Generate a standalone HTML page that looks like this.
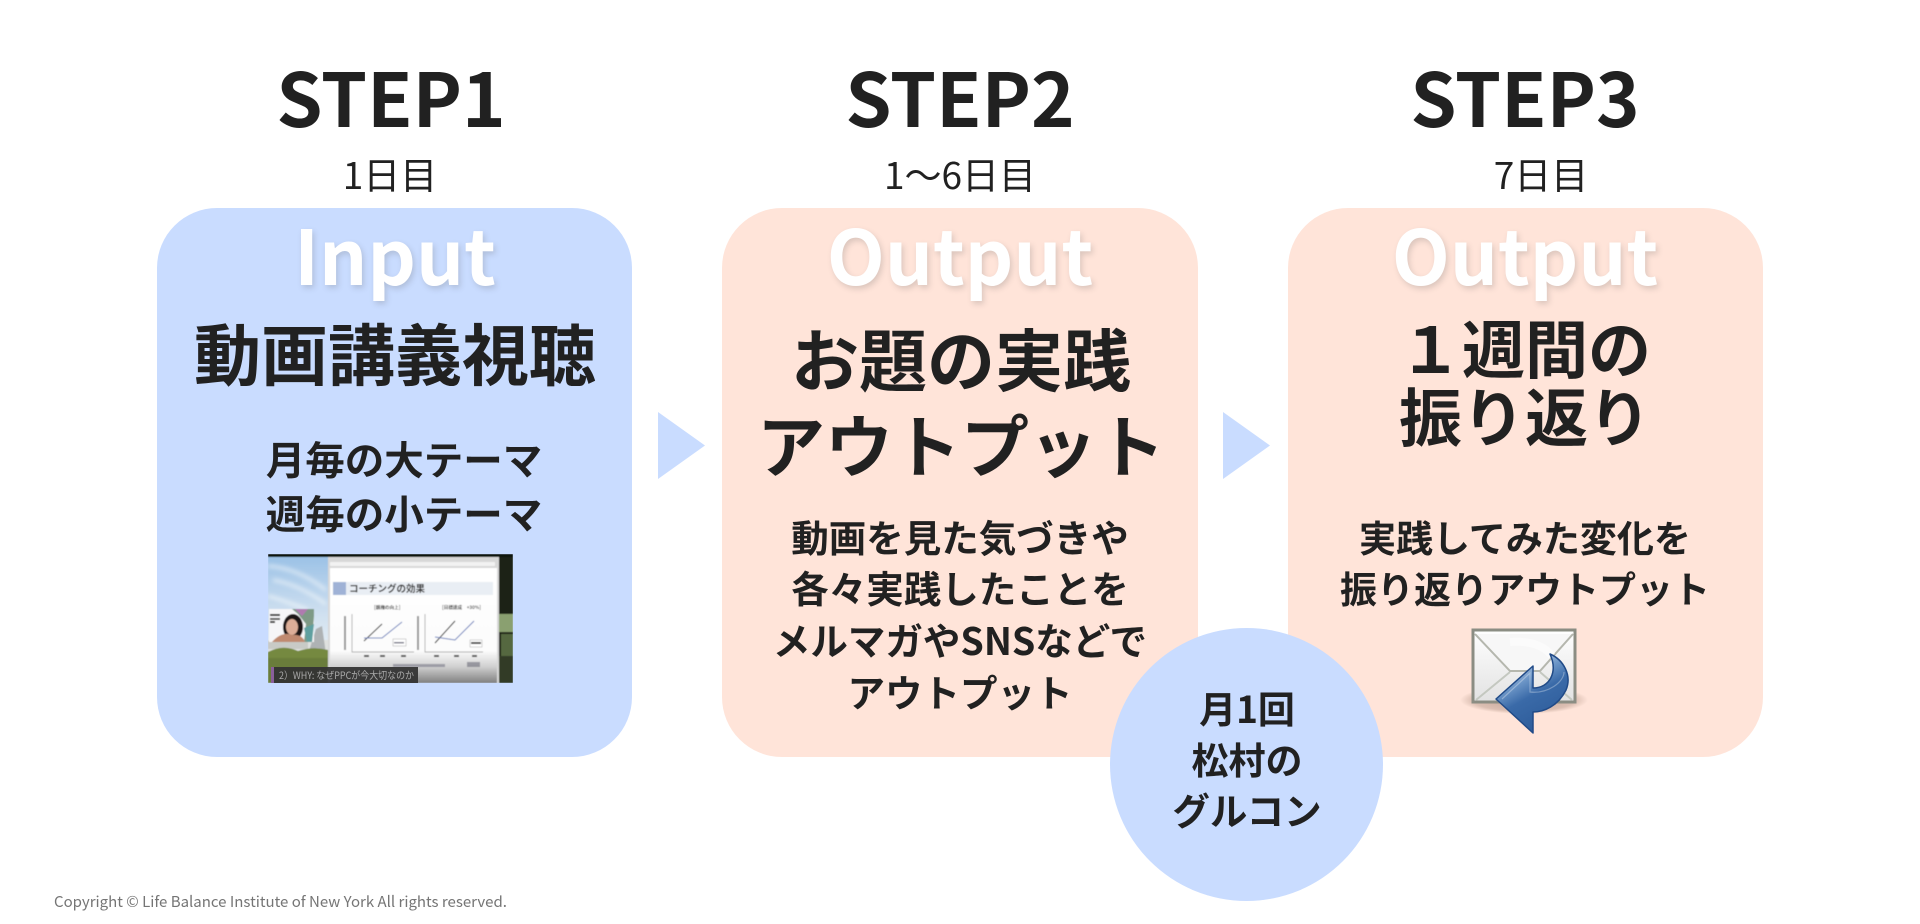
<!DOCTYPE html>
<html lang="ja"><head><meta charset="utf-8"><title>STEP</title>
<style>
html,body{margin:0;padding:0;background:#fff}
#p{position:relative;width:1920px;height:924px;overflow:hidden;background:#fff;font-family:"Noto Sans CJK JP","Liberation Sans",sans-serif;color:#212121}
.b{position:absolute;top:208px;height:549px;width:475px;border-radius:60px}
.t{position:absolute;width:800px;height:100px;line-height:100px;text-align:center;font-weight:700;white-space:nowrap}
.s{font-size:74px}.d{font-size:37px;font-weight:400}
.o{font-size:75.5px;color:#fff;text-shadow:2px 3px 6px rgba(90,90,90,.22)}
.h{font-size:67px}.h2{font-size:68px}.h3{font-size:63px}.m{font-size:37.5px}.m2{font-size:37px}.m3{font-size:39.5px}
svg{position:absolute}
</style></head><body><div id="p">
<div class="b" style="left:157px;background:#c9dcff"></div>
<div class="b" style="left:722px;width:476px;background:#ffe4d9"></div>
<div class="b" style="left:1288px;background:#ffe4d9"></div>
<svg style="left:0;top:0" width="1920" height="924"><polygon points="658,412 705,445.5 658,479" fill="#c9dcff"/><polygon points="1223,412 1270,445.5 1223,479" fill="#c9dcff"/></svg>

<div class="t s" style="left:-9px;top:46px">STEP1</div>
<div class="t s" style="left:560px;top:46px">STEP2</div>
<div class="t s" style="left:1125px;top:46px">STEP3</div>
<div class="t d" style="left:-10px;top:123px">1日目</div>
<div class="t d" style="left:560px;top:123px">1〜6日目</div>
<div class="t d" style="left:1141px;top:123px">7日目</div>
<div class="t o" style="left:-5px;top:202px">Input</div>
<div class="t o" style="left:560px;top:202px">Output</div>
<div class="t o" style="left:1125px;top:202px">Output</div>

<div class="t h" style="left:-5px;top:302px">動画講義視聴</div>
<div class="t m3" style="left:4px;top:409px">月毎の大テーマ</div>
<div class="t m3" style="left:4px;top:463px">週毎の小テーマ</div>

<div class="t h2" style="left:561px;top:307px">お題の実践</div>
<div class="t h2" style="left:561px;top:393px">アウトプット</div>
<div class="t m" style="left:560px;top:486px">動画を見た気づきや</div>
<div class="t m" style="left:560px;top:537px">各々実践したことを</div>
<div class="t m" style="left:560px;top:589px">メルマガやSNSなどで</div>
<div class="t m" style="left:560px;top:641px">アウトプット</div>

<div class="t h3" style="left:1125px;top:297px">１週間の</div>
<div class="t h3" style="left:1125px;top:365px">振り返り</div>
<div class="t m2" style="left:1125px;top:486px">実践してみた変化を</div>
<div class="t m2" style="left:1125px;top:537px">振り返りアウトプット</div>

<svg style="left:268px;top:554px" width="245" height="129" viewBox="0 0 245 129">
<defs>
<linearGradient id="sky" x1="0" y1="0" x2="0" y2="1"><stop offset="0" stop-color="#9cc2e6"/><stop offset=".45" stop-color="#cfe0f0"/><stop offset=".75" stop-color="#e6edf3"/><stop offset="1" stop-color="#eef1f4"/></linearGradient>
<linearGradient id="fade" x1="0" y1="0" x2="0" y2="1"><stop offset="0" stop-color="#fff"/><stop offset=".72" stop-color="#fcfcfc"/><stop offset=".86" stop-color="#cfcfcf"/><stop offset="1" stop-color="#808080"/></linearGradient>
<filter id="bl" x="-5%" y="-5%" width="110%" height="110%"><feGaussianBlur stdDeviation=".5"/></filter>
<filter id="bl2"><feGaussianBlur stdDeviation="2"/></filter>
</defs>
<g filter="url(#bl)">
<rect width="245" height="129" fill="#101410"/>
<rect y="3" width="60" height="126" fill="url(#sky)"/>
<g filter="url(#bl2)" stroke="#fff" stroke-width="3" opacity=".6" fill="none"><path d="M0 12 Q30 14 58 36"/><path d="M5 26 Q30 30 58 50"/><path d="M0 42 Q15 46 40 56"/></g>
<rect y="86" width="60" height="43" fill="#dfe1df"/>
<polygon points="41,97 48,75 54,72 58,100" fill="#aeb2b4"/>
<rect x="0" y="87" width="40" height="8" fill="#c8cac6"/>
<path d="M0 98 Q15 90 30 97 Q45 92 60 96 V129 H0Z" fill="#75893f"/>
<rect y="104" width="60" height="25" fill="#6a7d3a"/>
<rect x="231" y="3" width="14" height="126" fill="#1d2418"/>
<rect x="231" y="60" width="14" height="18" fill="#8aa070"/>
<rect x="233" y="80" width="12" height="22" fill="#55683f"/>
<rect x="231" y="102" width="14" height="27" fill="#303b26"/>
<rect x="60" y="3" width="171" height="126" fill="#d8d8d8"/>
<rect x="62" y="14" width="167" height="115" fill="url(#fade)"/>
<rect x="62" y="8" width="165" height="4" fill="#f2f2f2"/>
<rect x="65" y="28" width="160" height="13" fill="#e9eef4"/>
<rect x="65" y="28" width="13" height="13" fill="#9fb2d6"/>
<text x="81" y="38" font-size="9.5" font-weight="700" fill="#333" font-family="Noto Sans CJK JP, sans-serif">コーチングの効果</text>
<text x="106" y="55" font-size="4.6" font-weight="700" fill="#444" font-family="Noto Sans CJK JP, sans-serif">[親権の向上]</text>
<text x="174" y="55" font-size="4.6" font-weight="700" fill="#444" font-family="Noto Sans CJK JP, sans-serif">[目標達成　+30%]</text>
<g fill="none" stroke="#999" stroke-width=".7"><path d="M84 60 V98 H146"/><path d="M157 60 V98 H215"/></g>
<rect x="76" y="62" width="2" height="34" fill="#999"/><rect x="149" y="62" width="2" height="34" fill="#999"/>
<g fill="none" stroke-width="1"><path d="M96 87 L114 70" stroke="#222"/><path d="M96 84 H114 L134 68" stroke="#6d82bd"/><path d="M167 89 L187 67" stroke="#222"/><path d="M167 83 L187 86 L206 67" stroke="#6d82bd"/></g>
<rect x="125" y="85" width="13" height="7" fill="#fff" stroke="#aaa" stroke-width=".5"/><rect x="202" y="86" width="12" height="7" fill="#fff" stroke="#aaa" stroke-width=".5"/>
<rect x="126" y="88" width="10" height="1.5" fill="#778"/><rect x="203" y="88" width="10" height="2" fill="#444"/>
<rect x="125" y="110" width="52" height="3" fill="#667" opacity=".5"/><rect x="199" y="108" width="13" height="5" fill="#556" opacity=".5"/>
<rect x="96" y="101" width="5" height="2" fill="#555"/><rect x="112" y="101" width="5" height="2" fill="#555"/><rect x="133" y="101" width="5" height="2" fill="#555"/><rect x="166" y="101" width="5" height="2" fill="#555"/><rect x="186" y="101" width="5" height="2" fill="#555"/><rect x="204" y="101" width="5" height="2" fill="#555"/>
<rect x="1" y="55" width="45" height="33" fill="#f6f6f8"/>
<polygon points="24,55 46,55 46,62 44,88 36,88 38,70 30,60" fill="#7e9a86"/>
<polygon points="27,55 40,55 34,62" fill="#b07ab0"/><polygon points="36,74 46,70 44,88 39,88" fill="#5fa0a0"/>
<rect x="2" y="60" width="10" height="2" fill="#333"/><rect x="2" y="64" width="10" height="2" fill="#555"/><rect x="2" y="67" width="5" height="2" fill="#333"/>
<ellipse cx="25" cy="73" rx="10" ry="13" fill="#1f1719"/><ellipse cx="24" cy="73" rx="6" ry="8" fill="#dcae98"/>
<path d="M4 88 Q14 77 24 81 Q34 80 37 88Z" fill="#c08a70"/>
</g>
<rect x="3" y="113" width="147" height="16" fill="#333" opacity=".94"/>
<rect x="3" y="113" width="3" height="16" fill="#8a5f9a"/>
<text x="11" y="125" font-size="10" textLength="135" lengthAdjust="spacingAndGlyphs" fill="#aaa" font-family="Noto Sans CJK JP, sans-serif">2）WHY: なぜPPCが今大切なのか</text>
</svg>

<svg style="left:1440px;top:610px" width="160" height="130" viewBox="0 0 160 130">
<defs>
<radialGradient id="sh" cx=".5" cy=".5" r=".5"><stop offset="0" stop-color="#8a6a5a" stop-opacity=".55"/><stop offset=".8" stop-color="#8a6a5a" stop-opacity=".3"/><stop offset="1" stop-color="#8a6a5a" stop-opacity="0"/></radialGradient>
<linearGradient id="env" x1="0" y1="0" x2="0" y2="1"><stop offset="0" stop-color="#fff"/><stop offset="1" stop-color="#e2e2e2"/></linearGradient>
<linearGradient id="arw" x1=".3" y1="0" x2=".8" y2="1"><stop offset="0" stop-color="#dce6f0"/><stop offset=".3" stop-color="#6f98c8"/><stop offset=".5" stop-color="#3a6aa8"/><stop offset="1" stop-color="#2a5896"/></linearGradient>
</defs>
<ellipse cx="84" cy="90" rx="64" ry="14" fill="url(#sh)"/>
<rect x="33" y="20" width="102" height="72" fill="url(#env)" stroke="#8b8d83" stroke-width="3"/>
<path d="M35 24 L70 61 H100 L133 24" fill="#f7f7f7" stroke="#b5b7ae" stroke-width="2"/>
<path d="M36 90 L70 62 M132 90 L100 62" stroke="#c4c8c0" stroke-width="2" fill="none"/>
<path d="M70 32 Q100 30 112 46" stroke="#fff" stroke-width="8" fill="none" opacity=".5"/>
<path d="M56 89 L93 56 L93 78 C110 78 118 62 110 44 C124 50 132 66 126 80 C118 96 104 102 93 102 L93 123 Z" fill="url(#arw)" stroke="#204a87" stroke-width="1.5" stroke-linejoin="round"/>
<path d="M62 89 L90 63 L90 82 C108 84 124 72 124 62" fill="none" stroke="#fff" stroke-width="1.2" opacity=".3"/>
</svg>

<div style="position:absolute;left:1110px;top:628px;width:273px;height:273px;border-radius:50%;background:#c9dcff"></div>
<div class="t m2" style="left:847px;top:657px">月1回</div>
<div class="t m2" style="left:847px;top:708px">松村の</div>
<div class="t m" style="left:847px;top:759px">グルコン</div>

<div style="position:absolute;left:54px;top:891px;font-size:15px;line-height:22px;color:#757575;white-space:nowrap">Copyright © Life Balance Institute of New York All rights reserved.</div>
</div></body></html>
